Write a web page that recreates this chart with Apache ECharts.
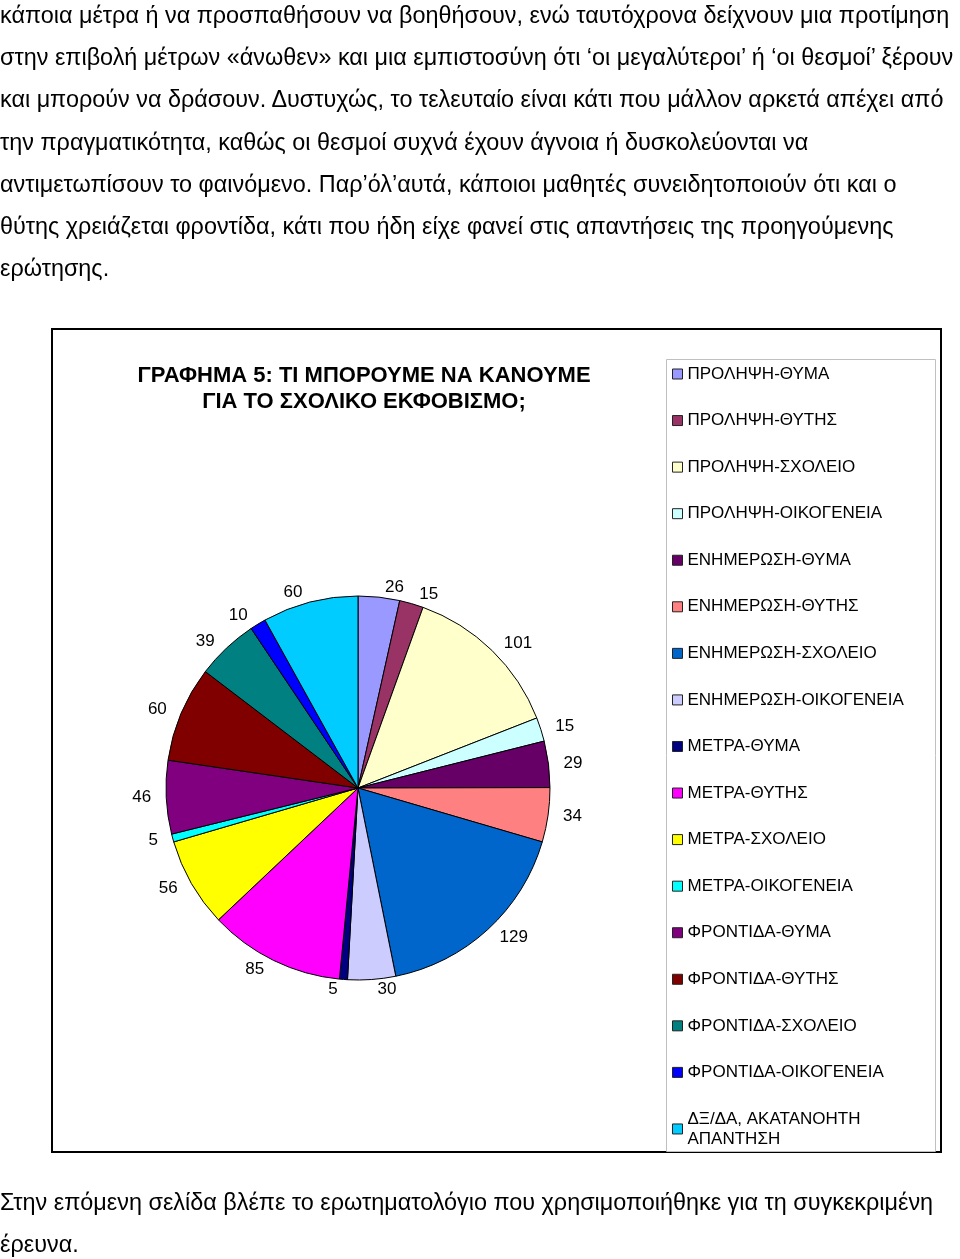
<!DOCTYPE html>
<html><head><meta charset="utf-8">
<script src="https://cdn.jsdelivr.net/npm/echarts@6/dist/echarts.min.js"></script>
<style>
html,body{margin:0;padding:0;background:#fff;width:960px;height:1259px;overflow:hidden;position:relative;}
#chart{position:absolute;left:0;top:0;width:960px;height:1259px;}
.txt{position:absolute;left:0;font-family:"Liberation Sans",Arial,sans-serif;font-size:23.4px;line-height:42.2px;color:#000;white-space:nowrap;}
.txt div{white-space:nowrap;}
</style></head>
<body>
<div id="chart"></div>
<div class="txt" id="topText" style="top:-6px"></div>
<div class="txt" id="bottomText" style="top:1181px"></div>
<script>
const paragraphLines = [
  "κάποια μέτρα ή να προσπαθήσουν να βοηθήσουν, ενώ ταυτόχρονα δείχνουν μια προτίμηση",
  "στην επιβολή μέτρων «άνωθεν» και μια εμπιστοσύνη ότι ‘οι μεγαλύτεροι’ ή ‘οι θεσμοί’ ξέρουν",
  "και μπορούν να δράσουν. Δυστυχώς, το τελευταίο είναι κάτι που μάλλον αρκετά απέχει από",
  "την πραγματικότητα, καθώς οι θεσμοί συχνά έχουν άγνοια ή δυσκολεύονται να",
  "αντιμετωπίσουν το φαινόμενο. Παρ’όλ’αυτά, κάποιοι μαθητές συνειδητοποιούν ότι και ο",
  "θύτης χρειάζεται φροντίδα, κάτι που ήδη είχε φανεί στις απαντήσεις της προηγούμενης",
  "ερώτησης."
];
const noteLines = [
  "Στην επόμενη σελίδα βλέπε το ερωτηματολόγιο που χρησιμοποιήθηκε για τη συγκεκριμένη",
  "έρευνα."
];
const chartTitle = "ΓΡΑΦΗΜΑ 5: ΤΙ ΜΠΟΡΟΥΜΕ ΝΑ ΚΑΝΟΥΜΕ\nΓΙΑ ΤΟ ΣΧΟΛΙΚΟ ΕΚΦΟΒΙΣΜΟ;";
const categories = [
  "ΠΡΟΛΗΨΗ-ΘΥΜΑ","ΠΡΟΛΗΨΗ-ΘΥΤΗΣ","ΠΡΟΛΗΨΗ-ΣΧΟΛΕΙΟ","ΠΡΟΛΗΨΗ-ΟΙΚΟΓΕΝΕΙΑ",
  "ΕΝΗΜΕΡΩΣΗ-ΘΥΜΑ","ΕΝΗΜΕΡΩΣΗ-ΘΥΤΗΣ","ΕΝΗΜΕΡΩΣΗ-ΣΧΟΛΕΙΟ","ΕΝΗΜΕΡΩΣΗ-ΟΙΚΟΓΕΝΕΙΑ",
  "ΜΕΤΡΑ-ΘΥΜΑ","ΜΕΤΡΑ-ΘΥΤΗΣ","ΜΕΤΡΑ-ΣΧΟΛΕΙΟ","ΜΕΤΡΑ-ΟΙΚΟΓΕΝΕΙΑ",
  "ΦΡΟΝΤΙΔΑ-ΘΥΜΑ","ΦΡΟΝΤΙΔΑ-ΘΥΤΗΣ","ΦΡΟΝΤΙΔΑ-ΣΧΟΛΕΙΟ","ΦΡΟΝΤΙΔΑ-ΟΙΚΟΓΕΝΕΙΑ",
  "ΔΞ/ΔΑ, ΑΚΑΤΑΝΟΗΤΗ ΑΠΑΝΤΗΣΗ"
];
const values = [26, 15, 101, 15, 29, 34, 129, 30, 5, 85, 56, 5, 46, 60, 39, 10, 60];
const palette = [
  "#9999FF","#993366","#FFFFCC","#CCFFFF","#660066","#FF8080","#0066CC","#CCCCFF",
  "#000080","#FF00FF","#FFFF00","#00FFFF","#800080","#800000","#008080","#0000FF","#00CCFF"
];

document.getElementById('topText').innerHTML = paragraphLines.map(l => '<div>' + l + '</div>').join('');
document.getElementById('bottomText').innerHTML = noteLines.map(l => '<div>' + l + '</div>').join('');

const chart = echarts.init(document.getElementById('chart'), null, {renderer: 'canvas'});
const FONT = '"Liberation Sans", Arial, sans-serif';
chart.setOption({
  animation: false,
  backgroundColor: 'transparent',
  title: {
    text: chartTitle,
    left: 364,
    top: 363,
    padding: 0,
    textAlign: 'center',
    textStyle: {fontFamily: FONT, fontSize: 22, fontWeight: 'bold', color: '#000', lineHeight: 26}
  },
  graphic: [
    {type: 'rect', shape: {x: 52, y: 329, width: 889, height: 823}, style: {fill: 'none', stroke: '#000', lineWidth: 2}, silent: true},
    {type: 'rect', shape: {x: 666.5, y: 359.5, width: 269, height: 792}, style: {fill: 'none', stroke: '#c0c0c0', lineWidth: 1}, silent: true}
  ],
  legend: {
    orient: 'vertical',
    left: 672,
    top: 364,
    padding: 0,
    itemWidth: 10,
    itemHeight: 10,
    itemGap: 26.56,
    icon: 'rect',
    selectedMode: false,
    itemStyle: {borderColor: '#222', borderWidth: 1},
    formatter: name => name.replace('ΑΚΑΤΑΝΟΗΤΗ ', 'ΑΚΑΤΑΝΟΗΤΗ\n'),
    textStyle: {fontFamily: FONT, fontSize: 17, color: '#000', lineHeight: 20},
    data: categories
  },
  series: [{
    type: 'pie',
    center: [358, 788],
    radius: 192,
    startAngle: 90,
    clockwise: true,
    avoidLabelOverlap: false,
    silent: true,
    itemStyle: {borderColor: '#000', borderWidth: 1},
    label: {show: true, position: 'outside', formatter: '{c}', color: '#000', fontFamily: FONT, fontSize: 17},
    labelLine: {show: false, length: 10, length2: 0},
    emphasis: {disabled: true},
    data: categories.map((n, i) => ({name: n, value: values[i], itemStyle: {color: palette[i]}}))
  }]
});
</script>
</body></html>
